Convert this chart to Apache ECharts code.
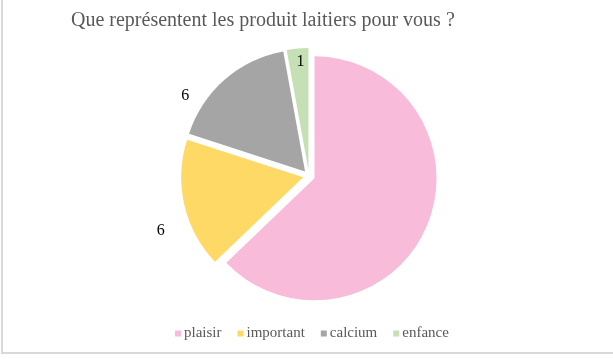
<!DOCTYPE html>
<html>
<head>
<meta charset="utf-8">
<script src="https://cdn.jsdelivr.net/npm/echarts@6/dist/echarts.min.js"></script>
<style>
html,body{margin:0;padding:0;background:#fff;}
#wrap{position:relative;width:613px;height:359px;}
#frame{position:absolute;left:1px;top:0;width:640px;height:352px;border-left:2px solid #d9d9d9;border-bottom:2px solid #d9d9d9;box-sizing:content-box;}
#chart{position:absolute;left:0;top:0;width:613px;height:359px;}
</style>
</head>
<body>
<div id="wrap"><div id="frame"></div><div id="chart"></div></div>
<script>
const titleText = 'Que représentent les produit laitiers pour vous ?';
const categories = ['plaisir', 'important', 'calcium', 'enfance'];
const values = [22, 6, 6, 1];
const showLabel = [false, true, true, true];
const colors = ['#F8BBD9', '#FFD966', '#A5A5A5', '#C5E0B4'];

const chart = echarts.init(document.getElementById('chart'));
const FONT = '"Liberation Serif", "DejaVu Serif", serif';
chart.setOption({
  animation: false,
  title: {
    text: titleText, left: 66, top: 6,
    textStyle: { fontFamily: FONT, fontSize: 20, fontWeight: 'normal', color: '#595959' }
  },
  legend: {
    data: categories, bottom: 13, left: 170,
    icon: 'rect', itemWidth: 6, itemHeight: 6, itemGap: 16,
    selectedMode: false,
    textStyle: { fontFamily: FONT, fontSize: 15, color: '#595959', padding: [0, 0, 0, -2] }
  },
  series: [{
    type: 'pie',
    center: [309, 176],
    radius: 122,
    startAngle: 90,
    clockwise: true,
    selectedMode: 'multiple',
    selectedOffset: 6,
    avoidLabelOverlap: false,
    emphasis: { disabled: true },
    label: { show: true, position: 'outside', fontFamily: FONT, fontSize: 16, color: '#000', formatter: '{c}' },
    labelLine: { show: false, length: 22, length2: 6 },
    labelLayout: function (p) {
      if (p.dataIndex === 3) return { dy: 35, dx: 20 };
      if (p.dataIndex === 2) return { dy: 33, dx: -10 };
      if (p.dataIndex === 1) return { dy: 21, dx: 13 };
      return {};
    },
    data: categories.map((c, i) => ({
      name: c, value: values[i], selected: true,
      itemStyle: { color: colors[i] },
      label: { show: showLabel[i] }
    }))
  }]
});
</script>
</body>
</html>
